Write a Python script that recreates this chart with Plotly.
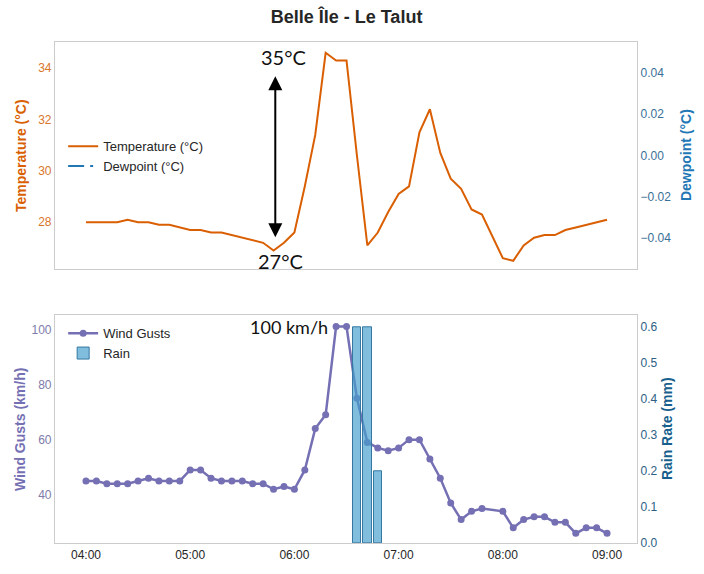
import plotly.graph_objects as go

# ---------------- data ----------------
times = ["04:00", "04:06", "04:12", "04:18", "04:24", "04:30", "04:36", "04:42", "04:48", "04:54",
         "05:00", "05:06", "05:12", "05:18", "05:24", "05:30", "05:36", "05:42", "05:48", "05:54",
         "06:00", "06:06", "06:12", "06:18", "06:24", "06:30", "06:36", "06:42", "06:48", "06:54",
         "07:00", "07:06", "07:12", "07:18", "07:24", "07:30", "07:36", "07:42", "07:48",
         "08:00", "08:06", "08:12", "08:18", "08:24", "08:30", "08:36", "08:42", "08:48", "08:54", "09:00"]

temperature_c = [28.0, 28.0, 28.0, 28.0, 28.1, 28.0, 28.0, 27.9, 27.9, 27.8,
                 27.7, 27.7, 27.6, 27.6, 27.5, 27.4, 27.3, 27.2, 26.9, 27.2,
                 27.6, 29.4, 31.4, 34.6, 34.3, 34.3, 30.6, 27.1, 27.6, 28.4,
                 29.1, 29.4, 31.5, 32.4, 30.7, 29.7, 29.3, 28.5, 28.3,
                 26.6, 26.5, 27.1, 27.4, 27.5, 27.5, 27.7, 27.8, 27.9, 28.0, 28.1]

dewpoint_c = [None] * len(times)

wind_gusts_kmh = [45, 45, 44, 44, 44, 45, 46, 45, 45, 45,
                  49, 49, 46, 45, 45, 45, 44, 44, 42, 43,
                  42, 49, 64, 69, 101, 101, 75, 59, 57, 56,
                  57, 60, 60, 53, 46, 37, 31, 34, 35,
                  34, 28, 31, 32, 32, 30, 30, 26, 28, 28, 26]

rain_times = ["06:36", "06:42", "06:48"]
rain_mm = [0.6, 0.6, 0.2]

hour_ticks = ["04:00", "05:00", "06:00", "07:00", "08:00", "09:00"]

# ---------------- helpers / styles ----------------
DAY = "2024-01-01 "


def ts(t):
    return DAY + t


tx = [ts(t) for t in times]
rx = [ts(t) for t in rain_times]
XR = [ts("03:42:10"), ts("09:17:15")]

ARIAL = "Liberation Sans, Arial, sans-serif"
ANNOT_FONT = "Lato, Carlito, sans-serif"
FRAME = "#cccccc"
TEMP = "#d95f02"
TEMP_TICK = "#d9772a"
DEW = "#2277b5"
DEW_TICK = "#3a6f98"
GUST = "#7570b3"
GUST_TICK = "#7e7bab"
RAIN_T = "#175f8c"
RAIN_TICK = "#2c6084"
BAR_FILL = "rgba(70,158,205,0.68)"
BAR_EDGE = "#3478a3"

fig = go.Figure()
fig.add_trace(go.Scatter(x=tx, y=temperature_c, mode="lines", name="Temperature (°C)",
                         line=dict(color=TEMP, width=2), xaxis="x", yaxis="y", legend="legend"))
fig.add_trace(go.Scatter(x=tx, y=dewpoint_c, mode="lines", name="Dewpoint (°C)",
                         line=dict(color="#1f77b4", width=2, dash="16px,6px,3px,6px"),
                         xaxis="x", yaxis="y2", legend="legend"))
fig.add_trace(go.Scatter(x=tx, y=wind_gusts_kmh, mode="lines+markers", name="Wind Gusts",
                         line=dict(color=GUST, width=2.5), marker=dict(size=7, color=GUST),
                         xaxis="x2", yaxis="y3", legend="legend2"))
fig.add_trace(go.Bar(x=rx, y=rain_mm, name="Rain", width=[288000] * len(rx),
                     marker=dict(color=BAR_FILL, line=dict(color=BAR_EDGE, width=1)),
                     xaxis="x2", yaxis="y4", legend="legend2"))

common_axis = dict(showgrid=False, zeroline=False, showline=True, linecolor=FRAME,
                   linewidth=1.2, ticks="")

fig.update_layout(
    width=704, height=574,
    margin=dict(l=55, r=67, t=42, b=26),
    paper_bgcolor="white", plot_bgcolor="white",
    font=dict(family=ARIAL, size=12, color="#262626"),
    showlegend=True,
    title=dict(text="Belle Île - Le Talut", x=0.5009, xref="paper", xanchor="center",
               y=1 - 17 / 574, yref="container", yanchor="middle",
               font=dict(family=ARIAL, size=18, color="#262626", weight="bold")),
    xaxis=dict(domain=[0, 1], anchor="y", type="date", range=XR, showticklabels=False,
               mirror=True, **common_axis),
    yaxis=dict(domain=[0.5474, 1], anchor="x", range=[26.19, 35.02], tickvals=[28, 30, 32, 34],
               tickfont=dict(color=TEMP_TICK, size=12), mirror=True, **common_axis),
    yaxis2=dict(overlaying="y", side="right", anchor="x", range=[-0.055, 0.055],
                tickvals=[-0.04, -0.02, 0, 0.02, 0.04], tickformat=".2f",
                tickfont=dict(color=DEW_TICK, size=12), **common_axis),
    xaxis2=dict(domain=[0, 1], anchor="y3", type="date", range=XR,
                tickvals=[ts(t) for t in hour_ticks], ticktext=hour_ticks,
                tickfont=dict(color="#262626", size=12), mirror=True, **common_axis),
    yaxis3=dict(domain=[0, 0.4545], anchor="x2", range=[22.5, 105.1], tickvals=[40, 60, 80, 100],
                tickfont=dict(color=GUST_TICK, size=12), mirror=True, **common_axis),
    yaxis4=dict(overlaying="y3", side="right", anchor="x2", range=[0, 0.633],
                tickvals=[0, 0.1, 0.2, 0.3, 0.4, 0.5, 0.6], tickformat=".1f",
                tickfont=dict(color=RAIN_TICK, size=12), **common_axis),
    legend=dict(x=0.014, y=0.822, xanchor="left", yanchor="top", bgcolor="rgba(0,0,0,0)",
                font=dict(size=13, color="#262626"), tracegroupgap=0),
    legend2=dict(x=0.014, y=0.4487, xanchor="left", yanchor="top", bgcolor="rgba(0,0,0,0)",
                 font=dict(size=13, color="#262626"), tracegroupgap=0),
    bargap=0,
)

annotations = [
    # double-headed arrow spanning the temperature jump
    dict(x=ts("05:49"), y=27.42, ax=ts("05:49"), ay=33.74, xref="x", yref="y", axref="x", ayref="y",
         text="", showarrow=True, arrowhead=2, startarrowhead=2, arrowside="end+start",
         arrowwidth=2, arrowsize=1.4, startarrowsize=1.4, arrowcolor="black"),
    dict(x=ts("05:53:30"), y=34.45, xref="x", yref="y", text="35°C", showarrow=False,
         font=dict(family=ANNOT_FONT, size=20, color="#111111")),
    dict(x=ts("05:51:45"), y=26.51, xref="x", yref="y", text="27°C", showarrow=False,
         font=dict(family=ANNOT_FONT, size=20, color="#111111")),
    dict(x=ts("06:20:38"), y=100.8, xref="x2", yref="y3", text="100 km/h", showarrow=False,
         xanchor="right", font=dict(family=ANNOT_FONT, size=18, color="#111111")),
    # axis titles
    dict(x=(21.7 - 55) / 582, y=0.7737, xref="paper", yref="paper", text="Temperature (°C)",
         xanchor="center", yanchor="middle",
         textangle=-90, showarrow=False, font=dict(size=14, color=TEMP, weight="bold")),
    dict(x=(686.7 - 55) / 582, y=0.7737, xref="paper", yref="paper", text="Dewpoint (°C)",
         xanchor="center", yanchor="middle",
         textangle=-90, showarrow=False, font=dict(size=14, color=DEW, weight="bold")),
    dict(x=(20 - 55) / 582, y=0.2273, xref="paper", yref="paper", text="Wind Gusts (km/h)",
         xanchor="center", yanchor="middle",
         textangle=-90, showarrow=False, font=dict(size=14, color=GUST, weight="bold")),
    dict(x=(667 - 55) / 582, y=0.2273, xref="paper", yref="paper", text="Rain Rate (mm)",
         xanchor="center", yanchor="middle",
         textangle=-90, showarrow=False, font=dict(size=14, color=RAIN_T, weight="bold")),
]
fig.update_layout(annotations=annotations)

fig.write_html("out.html")
